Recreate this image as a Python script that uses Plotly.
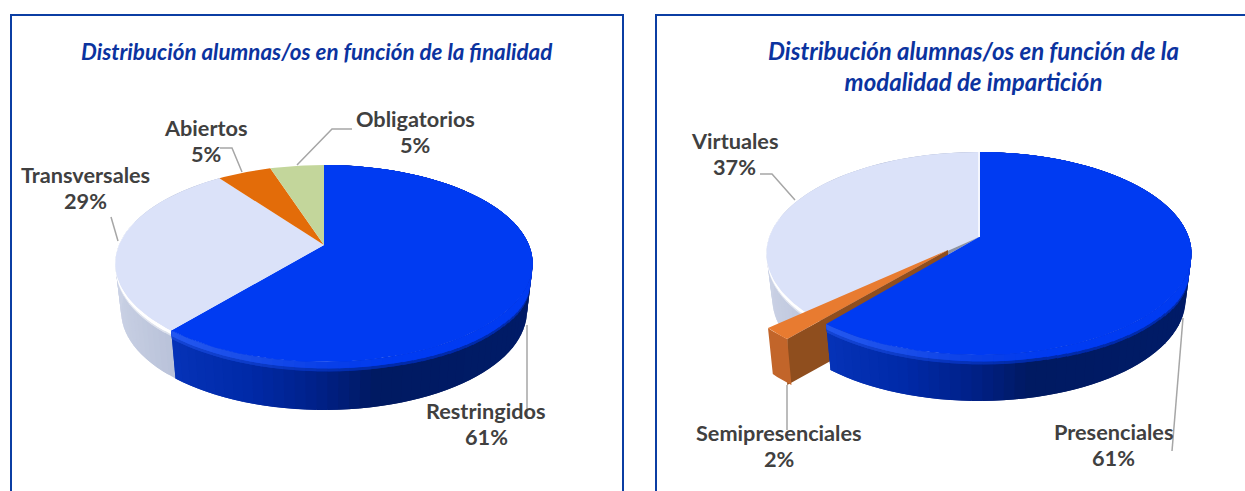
import numpy as np
import plotly.graph_objects as go

# ---------- data ----------
title_fin = "Distribución alumnas/os en función de la finalidad"
cats_fin = ["Restringidos", "Transversales", "Abiertos", "Obligatorios"]
vals_fin = [61, 29, 5, 5]

title_mod = "Distribución alumnas/os en función de la<br>modalidad de impartición"
cats_mod = ["Presenciales", "Semipresenciales", "Virtuales"]
vals_mod = [61, 2, 37]

# ---------- style / layout ----------
W, H = 1245, 491
BLUE, PALE, ORANGE, GREEN = "#003bf2", "#dbe2f9", "#e36c09", "#c3d69b"
LBL = "#404040"
LEAD = "#a6a6a6"
FRAME = "#0b3ea3"

SIDE = {
    "blue": ([-1, -.64, -.3, 0, .2, 1], ["#0633b8", "#0633b8", "#002aa8", "#002085", "#001a62", "#001c68"]),
    "pale": ([-1, -.6], ["#ccd3e6", "#b8c1d9"]),
}
BEVEL = {
    "blue": ([-1, -.64, -.3, 0, .3, 1], ["#2458f0", "#2458f0", "#1a4ee8", "#0a40e8", "#003bf2", "#003bf2"]),
    "pale": ([-1, -.6], ["#ffffff", "#ffffff"]),
}
WIDTH = {
    "blue": ([-1, -.2, .3, .8, 1], [5, 6, 7, 11, 17]),
    "pale": ([-1, -.6], [4, 4]),
}


def hex2rgb(h):
    return np.array([int(h[i:i + 2], 16) for i in (1, 3, 5)], float)


def shade(table, u, other=None, mix=0.0):
    xs, cs = table
    rgb = np.array([hex2rgb(c) for c in cs])
    c = np.array([np.interp(u, xs, rgb[:, i]) for i in range(3)])
    if other is not None:
        xs2, cs2 = other
        rgb2 = np.array([hex2rgb(c_) for c_ in cs2])
        c2 = np.array([np.interp(u, xs2, rgb2[:, i]) for i in range(3)])
        c = c * (1 - mix) + c2 * mix
    return "rgb(%d,%d,%d)" % tuple(c)


class Pie:
    """Perspective-projected disc; angles run clockwise from 12 o'clock."""

    def __init__(self, cx, cy, a, b, k, depth):
        self.cx, self.cy, self.a, self.b, self.k, self.depth = cx, cy, a, b, k, depth

    def pt(self, th, d=0.0, off=(0, 0)):
        u, v = np.sin(th), -np.cos(th)
        den = 1 - self.k * v
        shrink = 1 - 0.028 * d / self.depth
        return (self.cx + self.a * u / den * shrink + off[0],
                self.cy + self.b * v / den + d + off[1])

    def rim(self, t0, t1, d=0.0, off=(0, 0)):
        n = max(2, int(abs(t1 - t0) / np.radians(1.5)) + 1)
        return self.pt(np.linspace(t0, t1, n), d, off)


fig = go.Figure()


def poly(x, y, color):
    fig.add_trace(go.Scatter(
        x=list(x), y=list(y), mode="lines", fill="toself", fillcolor=color,
        line=dict(color=color, width=0), hoverinfo="skip", showlegend=False))


def line(x, y, color=LEAD, w=1.5):
    fig.add_trace(go.Scatter(x=x, y=y, mode="lines", line=dict(color=color, width=w),
                             hoverinfo="skip", showlegend=False))


def band(p, t0, t1, d0, d1, colorfn, step=np.radians(2.5)):
    """Shaded strip of the disc edge; each piece overlaps the next so no seam shows."""
    n = max(1, int((t1 - t0) / step))
    edges = np.linspace(t0, t1, n + 1)
    for i, (a, b) in enumerate(zip(edges[:-1], edges[1:])):
        e = edges[min(i + 2, n)]
        ths = np.linspace(a, e, 5)
        mid = (a + b) / 2
        u = np.sin(mid)
        dd0 = d0(u) if callable(d0) else d0
        dd1 = d1(u) if callable(d1) else d1
        xa, ya = p.pt(ths, dd0)
        xb, yb = p.pt(ths[::-1], dd1)
        poly(np.r_[xa, xb, xa[0]], np.r_[ya, yb, ya[0]], colorfn(u))


def edge(p, t0, t1, key):
    w = lambda u: float(np.interp(u, *WIDTH[key]))
    band(p, t0, t1, 0, p.depth, lambda u: shade(SIDE[key], u))
    band(p, t0, t1, 0, lambda u: w(u) + 3, lambda u: shade(BEVEL[key], u, SIDE[key], 0.5))
    band(p, t0, t1, 0, w, lambda u: shade(BEVEL[key], u))


def top(p, t0, t1, color, off=(0, 0), apex=None):
    x, y = p.rim(t0, t1, 0, off)
    ax, ay = apex or (p.cx + off[0], p.cy + off[1])
    poly(np.r_[ax, x, ax], np.r_[ay, y, ay], color)


def angles(vals):
    c = np.cumsum([0] + list(vals)) / sum(vals) * 2 * np.pi
    return list(zip(c[:-1], c[1:]))


# ---------- left pie ----------
pL = Pie(324, 245, 205, 95, 0.188, 48)
aL = angles(vals_fin)
band(pL, *aL[1], 0, pL.depth, lambda u: shade(SIDE["pale"], u))
band(pL, aL[1][0], aL[1][0] + np.radians(65), 0, 6, lambda u: shade(BEVEL["pale"], u, SIDE["pale"], 0.5))
band(pL, aL[1][0], aL[1][0] + np.radians(65), 0, 4, lambda u: shade(BEVEL["pale"], u))
edge(pL, *aL[0], "blue")
for (t0, t1), col in zip(aL, [BLUE, PALE, ORANGE, GREEN]):
    top(pL, t0, t1, col)

# ---------- right pie ----------
pR = Pie(979, 237, 209.7, 98.8, 0.1626, 46)
aR = angles(vals_mod)
explode = (-39, 15)
tip = (948, 250)
band(pR, *aR[2], 0, pR.depth, lambda u: shade(SIDE["pale"], u))
band(pR, aR[2][0], aR[2][0] + np.radians(55), 0, 6, lambda u: shade(BEVEL["pale"], u, SIDE["pale"], 0.5))
band(pR, aR[2][0], aR[2][0] + np.radians(55), 0, 4, lambda u: shade(BEVEL["pale"], u))
top(pR, *aR[2], PALE)
top(pR, *aR[1], "#8d93a3")
# exploded slice
s0, s1 = aR[1]
ex, ey = pR.rim(s0, s1, 0, explode)
poly([tip[0], ex[0], ex[0], tip[0], tip[0]],
     [tip[1], ey[0], ey[0] + pR.depth, tip[1] + pR.depth, tip[1]], "#8f4e1e")
bx, by = pR.rim(s1, s0, pR.depth, explode)
poly(np.r_[ex, bx, ex[0]], np.r_[ey, by, ey[0]], "#c2652a")
top(pR, s0, s1, "#e87b30", explode, apex=tip)
# main slice
edge(pR, *aR[0], "blue")
top(pR, *aR[0], BLUE)
line([pR.cx, pR.cx], [pR.pt(0.0)[1], pR.cy], "#f4f6fd", 2)

# ---------- leader lines ----------
line([352, 332, 297], [129, 129, 165])
line([220, 232, 242], [148, 148, 172])
line([111, 118], [217, 241])
line([527, 527], [325, 416])
line([1183, 1172], [318, 451])
line([787, 787], [385, 430])
line([760, 772, 795], [174, 174, 200])

# ---------- labels ----------
ann = []


def text(x, y, s, size, color):
    ann.append(dict(x=x, y=y, xref="x", yref="y", showarrow=False, align="center",
                    text=s, font=dict(family="Lato", size=size, color=color)))


def label(x, y, cat, val):
    text(x, y - 13, f"<b>{cat}</b>", 21.7, LBL)
    text(x, y + 13, f"<b>{val}%</b>", 21.7, LBL)


for (x, y), c, v in zip([(486, 424), (85, 188), (206, 141), (415, 132)], cats_fin, vals_fin):
    label(x, y, c, v)
for (x, y), c, v in zip([(1113, 445), (779, 446), (734, 154)], cats_mod, vals_mod):
    label(x, y, c, v)

text(317, 51, f"<b><i>{title_fin}</i></b>", 22.4, "#0b339f")
text(973, 66, f"<b><i>{title_mod}</i></b>", 24, "#0b339f")

# ---------- frames ----------
shapes = []
for x0, x1 in [(11, 623), (656, 1262)]:
    shapes.append(dict(type="rect", xref="x", yref="y", x0=x0, x1=x1, y0=15, y1=520,
                       line=dict(color=FRAME, width=2), fillcolor="rgba(0,0,0,0)", layer="below"))

fig.update_layout(
    width=W, height=H, margin=dict(l=0, r=0, t=0, b=0),
    paper_bgcolor="white", plot_bgcolor="white", showlegend=False,
    xaxis=dict(range=[0, W], visible=False, fixedrange=True),
    yaxis=dict(range=[H, 0], visible=False, fixedrange=True),
    annotations=ann, shapes=shapes,
)
fig.write_html("out.html", config=dict(displayModeBar=False),
               post_script="document.body.style.margin='0';document.body.style.overflow='hidden';")
